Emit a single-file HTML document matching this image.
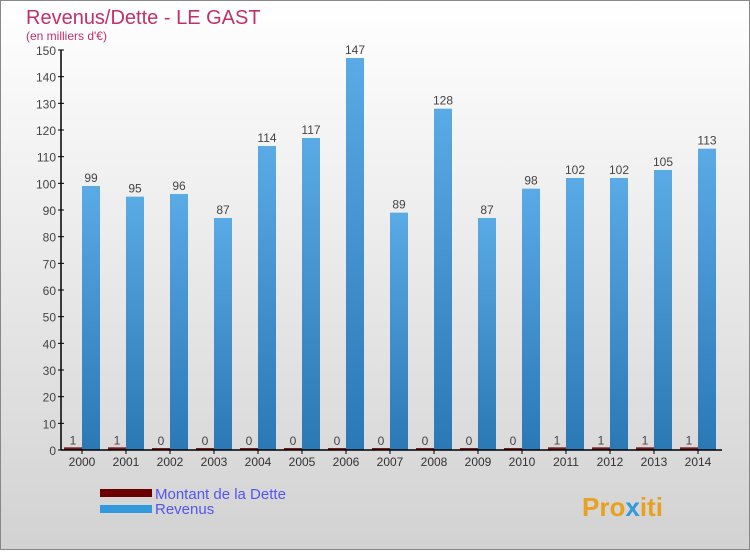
<!DOCTYPE html>
<html><head><meta charset="utf-8"><style>
body{margin:0;width:750px;height:550px;overflow:hidden;font-family:"Liberation Sans",sans-serif}
</style></head><body>
<svg width="750" height="550" xmlns="http://www.w3.org/2000/svg">
<defs>
<linearGradient id="bg" x1="0" y1="0" x2="0" y2="1"><stop offset="0" stop-color="#ffffff"/><stop offset="1" stop-color="#d2d2d2"/></linearGradient>
<linearGradient id="rev" x1="0" y1="0" x2="0" y2="1"><stop offset="0" stop-color="#5aaae6"/><stop offset="1" stop-color="#2a78b4"/></linearGradient>
</defs>
<rect x="0.5" y="0.5" width="749" height="549" fill="url(#bg)" stroke="#888"/>
<text x="26" y="24" font-size="20" fill="#c0306a">Revenus/Dette - LE GAST</text>
<text x="26" y="40" font-size="12" fill="#c0306a">(en milliers d'€)</text>
<g id="plot"></g>
<g>
<rect x="100" y="489" width="52" height="8" fill="#6a0000"/>
<rect x="100" y="505" width="52" height="8" fill="#3399dd"/>
<text x="155" y="499" font-size="15" fill="#5555ee">Montant de la Dette</text>
<text x="155" y="514" font-size="15" fill="#5555ee">Revenus</text>
</g>
<text x="582" y="516" font-size="26" font-weight="bold" fill="#e8a020">Pro<tspan fill="#3399dd">x</tspan>iti</text>
</svg>
<script>
const years=["2000","2001","2002","2003","2004","2005","2006","2007","2008","2009","2010","2011","2012","2013","2014"];
const revenus=[99,95,96,87,114,117,147,89,128,87,98,102,102,105,113];
const dette=[1,1,0,0,0,0,0,0,0,0,0,1,1,1,1];
const yTicks=[0,10,20,30,40,50,60,70,80,90,100,110,120,130,140,150];
const NS="http://www.w3.org/2000/svg";
const g=document.getElementById('plot');
const y0=450,k=400/150,x0=82,dx=44;
const Y=v=>y0-v*k, X=i=>x0+i*dx;
function el(t,a,p){const e=document.createElementNS(NS,t);for(const n in a)e.setAttribute(n,a[n]);(p||g).appendChild(e);return e;}
yTicks.forEach(v=>{
 const t=el('text',{x:56,y:Y(v)+5,'font-size':12,fill:'#444','text-anchor':'end'});t.textContent=v;
 
 
 el('line',{x1:58,x2:64,y1:Y(v),y2:Y(v),stroke:'#000'});
});
years.forEach((yr,i)=>{
 const x=X(i);
 const b=el('rect',{x:x,y:Y(revenus[i]),width:18,height:revenus[i]*k,fill:'url(#rev)'});
 
 
 const h=Math.max(dette[i]*k,2);
 const d=el('rect',{x:x-18,y:y0-h,width:18,height:h,fill:'#7a1a1a'});
 
 
 const t1=el('text',{x:x+9,y:Y(revenus[i])-4,'font-size':12,fill:'#444','text-anchor':'middle'});t1.textContent=revenus[i];
 
 
 const t2=el('text',{x:x-9,y:y0-h-3,'font-size':12,fill:'#444','text-anchor':'middle'});t2.textContent=dette[i];
 
 
 const t3=el('text',{x:x,y:466,'font-size':12,fill:'#333','text-anchor':'middle'});t3.textContent=yr;
 
 
 el('line',{x1:x,x2:x,y1:y0,y2:y0+4,stroke:'#000'});
});
el('line',{x1:61,x2:61,y1:Y(150),y2:y0,stroke:'#000','stroke-width':1.5});
el('line',{x1:61,x2:722,y1:y0,y2:y0,stroke:'#000','stroke-width':1.5});
</script>
</body></html>
